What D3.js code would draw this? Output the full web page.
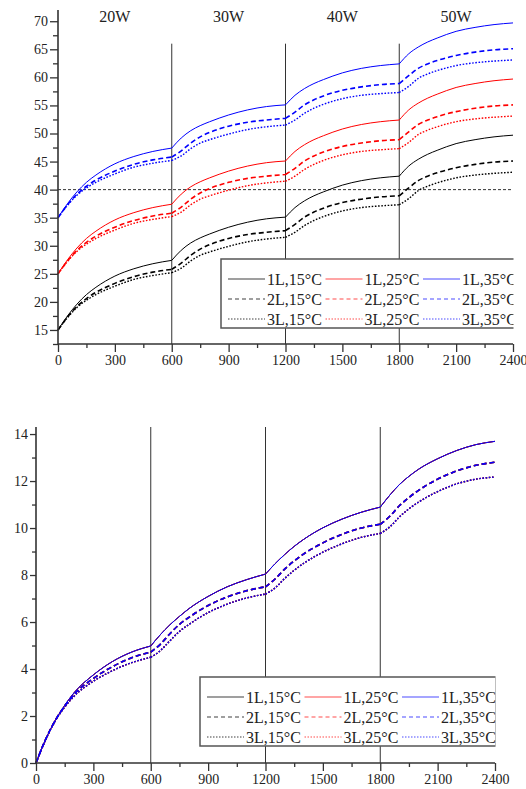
<!DOCTYPE html>
<html>
<head>
<meta charset="utf-8">
<script src="https://cdn.jsdelivr.net/npm/d3@7"></script>
<style>
  html, body { margin: 0; padding: 0; background: #fff; }
  svg text { font-family: "Liberation Serif", "Times New Roman", serif; fill: #222; }
</style>
</head>
<body>
<svg id="chart" width="526" height="789"></svg>
<script>
// ---------------- DATA ----------------
const time = [0,50,100,150,200,300,400,500,600,
              650,700,750,800,900,1000,1100,1200,
              1250,1300,1350,1400,1500,1600,1700,1800,
              1850,1900,1950,2000,2100,2200,2300,2400];
const segmentEnds = [0, 8, 16, 24, 32];           // indices of 600 s boundaries
const xTicks = [0,300,600,900,1200,1500,1800,2100,2400];
const powerLabels = ["20W","30W","40W","50W"];
const powerCenters = [300, 900, 1500, 2100];
const boundaries = [600, 1200, 1800];

// top chart: temperature
const T1_15 = [15,17.5,19.6,21.3,22.6,24.6,25.9,26.8,27.4, 29.2,30.5,31.4,32.1,33.3,34.2,34.8,35.1, 36.8,38.0,38.9,39.6,40.8,41.6,42.1,42.4, 44.2,45.4,46.3,47.0,48.2,48.9,49.4,49.7];
const T2_15 = [15,17.3,19.2,20.6,21.7,23.3,24.5,25.3,25.8, 26.9,28.3,29.4,30.2,31.3,32.0,32.4,32.7, 33.8,35.1,36.0,36.7,37.7,38.3,38.7,38.9, 40.3,41.6,42.4,43.0,43.9,44.5,44.9,45.1];
const T3_15 = [15,17.2,19.0,20.3,21.3,22.8,24.0,24.7,25.2, 26.0,27.3,28.3,28.9,29.9,30.7,31.2,31.5, 32.4,33.6,34.5,35.2,36.2,36.8,37.1,37.3, 38.4,39.8,40.6,41.2,42.1,42.6,42.9,43.1];
const T1_25 = [25,27.5,29.6,31.3,32.6,34.6,35.9,36.8,37.4, 39.2,40.5,41.4,42.1,43.3,44.2,44.8,45.1, 46.8,48.0,48.9,49.6,50.8,51.6,52.1,52.4, 54.2,55.4,56.3,57.0,58.2,58.9,59.4,59.7];
const T2_25 = [25,27.3,29.2,30.6,31.7,33.3,34.5,35.3,35.8, 36.9,38.3,39.4,40.2,41.3,42.0,42.4,42.7, 43.8,45.1,46.0,46.7,47.7,48.3,48.7,48.9, 50.3,51.6,52.4,53.0,53.9,54.5,54.9,55.1];
const T3_25 = [25,27.2,29.0,30.3,31.3,32.8,34.0,34.7,35.2, 36.0,37.3,38.3,38.9,39.9,40.7,41.2,41.5, 42.4,43.6,44.5,45.2,46.2,46.8,47.1,47.3, 48.4,49.8,50.6,51.2,52.1,52.6,52.9,53.1];
const T1_35 = [35,37.5,39.6,41.3,42.6,44.6,45.9,46.8,47.4, 49.2,50.5,51.4,52.1,53.3,54.2,54.8,55.1, 56.8,58.0,58.9,59.6,60.8,61.6,62.1,62.4, 64.2,65.4,66.3,67.0,68.2,68.9,69.4,69.7];
const T2_35 = [35,37.3,39.2,40.6,41.7,43.3,44.5,45.3,45.8, 46.9,48.3,49.4,50.2,51.3,52.0,52.4,52.7, 53.8,55.1,56.0,56.7,57.7,58.3,58.7,58.9, 60.3,61.6,62.4,63.0,63.9,64.5,64.9,65.1];
const T3_35 = [35,37.2,39.0,40.3,41.3,42.8,44.0,44.7,45.2, 46.0,47.3,48.3,48.9,49.9,50.7,51.2,51.5, 52.4,53.6,54.5,55.2,56.2,56.8,57.1,57.3, 58.4,59.8,60.6,61.2,62.1,62.6,62.9,63.1];
const refLine = 40;

// bottom chart (identical for the three ambient temperatures)
const B1 = [0,1.0,1.8,2.45,3.0,3.75,4.32,4.72,4.98, 5.46,5.88,6.24,6.57,7.09,7.5,7.8,8.04, 8.48,8.87,9.22,9.52,10.01,10.38,10.67,10.89, 11.4,11.85,12.2,12.5,12.95,13.3,13.55,13.69];
const B2 = [0,1.0,1.8,2.42,2.93,3.6,4.1,4.48,4.72, 5.05,5.5,5.9,6.2,6.7,7.07,7.33,7.5, 7.83,8.25,8.6,8.9,9.37,9.73,10.0,10.16, 10.5,10.95,11.3,11.6,12.08,12.43,12.67,12.8];
const B3 = [0,0.98,1.78,2.38,2.85,3.48,3.93,4.27,4.5, 4.78,5.2,5.6,5.9,6.4,6.76,7.02,7.19, 7.45,7.85,8.2,8.5,8.97,9.33,9.6,9.77, 10.05,10.47,10.82,11.1,11.55,11.88,12.08,12.17];

const seriesNames = ["1L,15°C","1L,25°C","1L,35°C","2L,15°C","2L,25°C","2L,35°C","3L,15°C","3L,25°C","3L,35°C"];
const colors = {"15":"#000000","25":"#ff0000","35":"#0000ff"};

// ---------------- STYLES ----------------
const styleFor = {
  "1L": {dash: null,      width: 1.0},
  "2L": {dash: "5,3",     width: 1.6},
  "3L": {dash: "1.6,1.6", width: 1.4}
};
const legendStyle = {
  "1L": {dash: null,  width: 1.2},
  "2L": {dash: "4,3", width: 1.2},
  "3L": {dash: "1.5,1.5", width: 1.2}
};

const topSeries = [
  {name:"1L,15°C", layer:"1L", t:"15", v:T1_15},
  {name:"2L,15°C", layer:"2L", t:"15", v:T2_15},
  {name:"3L,15°C", layer:"3L", t:"15", v:T3_15},
  {name:"1L,25°C", layer:"1L", t:"25", v:T1_25},
  {name:"2L,25°C", layer:"2L", t:"25", v:T2_25},
  {name:"3L,25°C", layer:"3L", t:"25", v:T3_25},
  {name:"1L,35°C", layer:"1L", t:"35", v:T1_35},
  {name:"2L,35°C", layer:"2L", t:"35", v:T2_35},
  {name:"3L,35°C", layer:"3L", t:"35", v:T3_35}
];
const bottomSeries = [
  {name:"1L,15°C", layer:"1L", t:"15", v:B1},
  {name:"2L,15°C", layer:"2L", t:"15", v:B2},
  {name:"3L,15°C", layer:"3L", t:"15", v:B3},
  {name:"1L,25°C", layer:"1L", t:"25", v:B1},
  {name:"2L,25°C", layer:"2L", t:"25", v:B2},
  {name:"3L,25°C", layer:"3L", t:"25", v:B3},
  {name:"1L,35°C", layer:"1L", t:"35", v:B1},
  {name:"2L,35°C", layer:"2L", t:"35", v:B2},
  {name:"3L,35°C", layer:"3L", t:"35", v:B3}
];

const svg = d3.select("#chart");
const axisColor = "#333";

function drawPanel(cfg) {
  const g = svg.append("g");
  const x = d3.scaleLinear().domain([0, 2400]).range([cfg.left, cfg.right]);
  const y = d3.scaleLinear().domain(cfg.yDomain).range([cfg.bottom, cfg.top]);

  // vertical power-step boundaries
  g.selectAll("line.vb").data(boundaries).enter().append("line")
    .attr("x1", d => x(d)).attr("x2", d => x(d))
    .attr("y1", y(cfg.vTop)).attr("y2", y(cfg.yDomain[0]))
    .attr("stroke", "#333").attr("stroke-width", 1);

  if (cfg.refLine !== undefined) {
    g.append("line")
      .attr("x1", x(0)).attr("x2", x(2400))
      .attr("y1", y(cfg.refLine)).attr("y2", y(cfg.refLine))
      .attr("stroke", "#333").attr("stroke-width", 1).attr("stroke-dasharray", "3,2");
  }

  // curves, drawn segment by segment (kinks at power steps)
  const line = d3.line().x(d => x(d[0])).y(d => y(d[1])).curve(d3.curveMonotoneX);
  cfg.series.forEach(s => {
    const st = styleFor[s.layer];
    let dStr = "";
    for (let k = 0; k < 4; k++) {
      const pts = [];
      for (let i = segmentEnds[k]; i <= segmentEnds[k+1]; i++) pts.push([time[i], s.v[i]]);
      dStr += line(pts);
    }
    g.append("path").attr("d", dStr)
      .attr("fill", "none").attr("stroke", colors[s.t])
      .attr("stroke-width", st.width)
      .attr("stroke-dasharray", st.dash);
  });

  // axes
  const xAxis = d3.axisBottom(x).tickValues(xTicks).tickSize(8).tickPadding(3).tickFormat(d3.format("d"));
  const xMinor = d3.axisBottom(x).tickValues(d3.range(150, 2400, 300)).tickSize(4).tickFormat("");
  const yAxis = d3.axisLeft(y).tickValues(cfg.yTicks).tickSize(cfg.yMajor).tickPadding(2).tickFormat(d3.format("d"));
  const yMinor = d3.axisLeft(y).tickValues(cfg.yMinorTicks).tickSize(cfg.yMinorLen).tickFormat("");

  const gx = g.append("g").attr("transform", `translate(0,${cfg.bottom})`).call(xAxis);
  const gxm = g.append("g").attr("transform", `translate(0,${cfg.bottom})`).call(xMinor);
  const gy = g.append("g").attr("transform", `translate(${cfg.left},0)`).call(yAxis);
  const gym = g.append("g").attr("transform", `translate(${cfg.left},0)`).call(yMinor);
  [gx, gxm, gy, gym].forEach(a => {
    a.select(".domain").remove();
    a.selectAll(".tick line").attr("stroke", axisColor).attr("stroke-width", 1.3);
    a.selectAll("text").attr("font-size", 14).attr("fill", "#222")
      .style("font-family", '"Liberation Serif", serif');
  });
  // axis lines
  g.append("line").attr("x1", cfg.left).attr("x2", cfg.left)
    .attr("y1", cfg.top).attr("y2", cfg.bottom + 0.5)
    .attr("stroke", axisColor).attr("stroke-width", 1.6);
  g.append("line").attr("x1", cfg.left).attr("x2", cfg.right)
    .attr("y1", cfg.bottom).attr("y2", cfg.bottom)
    .attr("stroke", axisColor).attr("stroke-width", 1.6);

  // power labels
  if (cfg.powerLabels) {
    g.selectAll("text.pw").data(powerLabels).enter().append("text")
      .attr("x", (d, i) => x(powerCenters[i])).attr("y", cfg.powerY)
      .attr("text-anchor", "middle").attr("font-size", 16).attr("fill", "#333")
      .text(d => d);
  }

  // legend (clipped to the plot area)
  const clipId = "clip" + cfg.id;
  svg.append("clipPath").attr("id", clipId).append("rect")
    .attr("x", 0).attr("y", 0).attr("width", cfg.right + 0.5).attr("height", 789);
  const lg = g.append("g").attr("clip-path", `url(#${clipId})`);
  const bx = cfg.legendX, by = cfg.legendY, bw = 296, bh = 69;
  lg.append("rect").attr("x", bx).attr("y", by).attr("width", bw).attr("height", bh)
    .attr("fill", "#fff").attr("stroke", "#555").attr("stroke-width", 1.5);
  const order = [["1L","15"],["1L","25"],["1L","35"],["2L","15"],["2L","25"],["2L","35"],["3L","15"],["3L","25"],["3L","35"]];
  order.forEach((o, i) => {
    const col = i % 3, row = Math.floor(i / 3);
    const lx = bx + 7 + col * 97.5;
    const ly = by + 20 + row * 20;
    const st = legendStyle[o[0]];
    lg.append("line").attr("x1", lx).attr("x2", lx + 37).attr("y1", ly).attr("y2", ly)
      .attr("stroke", colors[o[1]]).attr("stroke-width", st.width)
      .attr("stroke-dasharray", st.dash)
      .attr("stroke-opacity", o[1] === "15" ? 0.75 : 0.7);
    lg.append("text").attr("x", lx + 39).attr("y", ly + 5.5)
      .attr("font-size", 16).attr("fill", "#222").text(seriesNames[i]);
  });
}

drawPanel({
  id: "top", left: 58, right: 513, top: 10, bottom: 344,
  yDomain: [12.5, 72], vTop: 66,
  yTicks: d3.range(15, 71, 5), yMinorTicks: d3.range(12.5, 72, 5),
  yMajor: 8, yMinorLen: 5,
  refLine: refLine, series: topSeries,
  powerLabels: true, powerY: 22,
  legendX: 221, legendY: 259
});

drawPanel({
  id: "bot", left: 36, right: 495, top: 427, bottom: 763,
  yDomain: [0, 14.3], vTop: 14.3,
  yTicks: d3.range(0, 15, 2), yMinorTicks: d3.range(1, 14, 2),
  yMajor: 6, yMinorLen: 4,
  series: bottomSeries, powerLabels: false,
  legendX: 200, legendY: 677
});
</script>
</body>
</html>
